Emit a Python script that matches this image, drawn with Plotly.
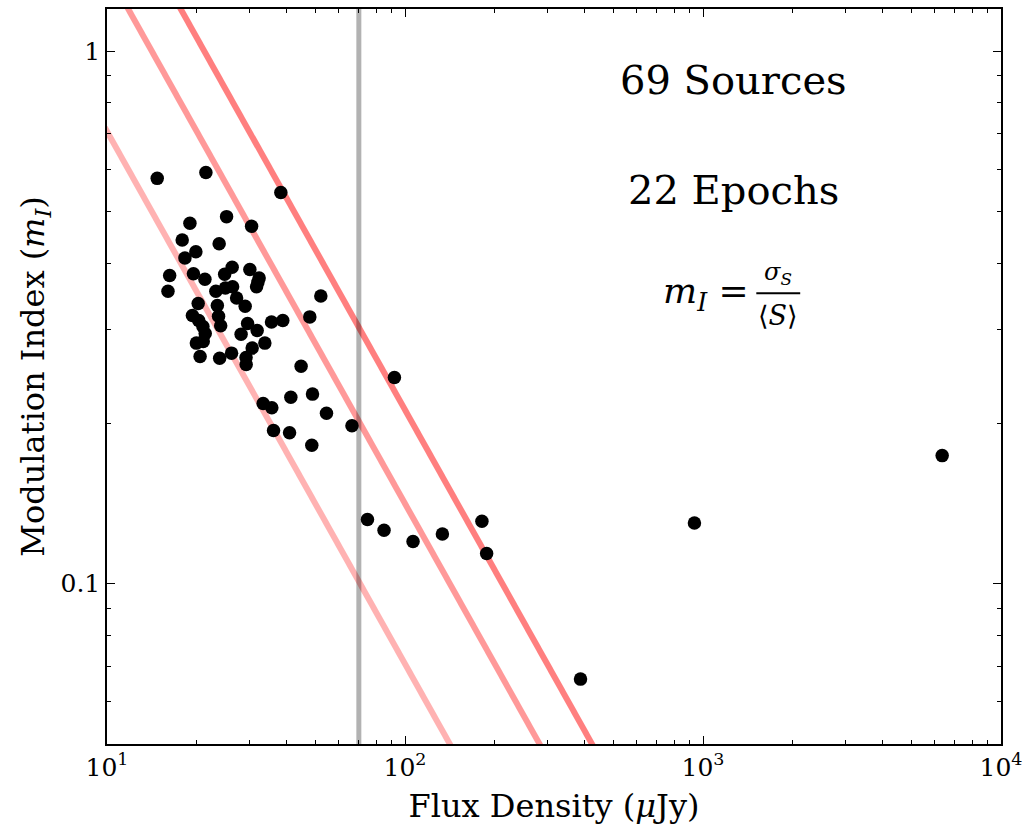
import plotly.graph_objects as go

# ---- data ----
flux = [14.74, 21.47, 38.31, 18.98, 25.19, 30.56, 17.88, 23.79, 19.87, 18.26,
        26.30, 30.16, 16.23, 19.50, 21.31, 24.82, 32.40, 31.76, 16.02, 23.19,
        26.39, 24.96, 52.18, 27.22, 20.23, 23.46, 29.08, 19.35, 20.31, 23.68,
        24.07, 47.92, 35.65, 38.90, 29.63, 31.91, 21.36, 28.18, 19.95, 21.03,
        30.70, 33.86, 20.53, 23.88, 26.18, 29.28, 29.31, 44.80, 33.42, 35.73,
        41.39, 48.93, 54.52, 92.15, 36.21, 40.98, 48.67, 66.38, 74.82, 85.04,
        106.4, 133.5, 181.2, 187.9, 935.9, 6347.0, 388.1, 20.98, 32.08]
mod_index = [0.577, 0.592, 0.543, 0.475, 0.489, 0.469, 0.442, 0.435, 0.420, 0.409,
             0.393, 0.389, 0.379, 0.382, 0.373, 0.381, 0.375, 0.361, 0.354, 0.354,
             0.361, 0.359, 0.347, 0.344, 0.336, 0.333, 0.332, 0.319, 0.312, 0.318,
             0.305, 0.317, 0.310, 0.312, 0.308, 0.299, 0.295, 0.294, 0.283, 0.285,
             0.277, 0.283, 0.267, 0.265, 0.271, 0.266, 0.258, 0.256, 0.218, 0.214,
             0.224, 0.227, 0.209, 0.244, 0.194, 0.192, 0.182, 0.198, 0.132, 0.126,
             0.120, 0.124, 0.131, 0.114, 0.130, 0.174, 0.0662, 0.304, 0.368]

# constant-sigma lines m = k / S  (k in uJy)
line_k = [7.07, 14.14, 21.21]
line_colors = ["rgba(255,0,0,0.3)", "rgba(255,0,0,0.4)", "rgba(255,0,0,0.5)"]
line_S = [1.0, 10000.0]
flux_cut = 70.0

x_tickvals = [10, 100, 1000, 10000]
x_ticktext = ["10<sup>1</sup>", "10<sup>2</sup>", "10<sup>3</sup>", "10<sup>4</sup>"]
y_tickvals = [0.1, 1]
y_ticktext = ["0.1", "1"]

FONT = "DejaVu Serif"

fig = go.Figure()

for k, c in zip(line_k, line_colors):
    fig.add_trace(go.Scatter(x=line_S, y=[k / s for s in line_S], mode="lines",
                             line=dict(color=c, width=6), hoverinfo="skip",
                             showlegend=False))

fig.add_trace(go.Scatter(x=[flux_cut, flux_cut], y=[0.01, 10], mode="lines",
                         line=dict(color="rgba(0,0,0,0.3)", width=5),
                         hoverinfo="skip", showlegend=False))

fig.add_trace(go.Scatter(x=flux, y=mod_index, mode="markers",
                         marker=dict(color="black", size=13.5, line=dict(width=0)),
                         showlegend=False))

x_minor = [m * 10 ** e for e in range(1, 4) for m in range(2, 10)]
y_minor = [0.05, 0.06, 0.07, 0.08, 0.09, 0.2, 0.3, 0.4, 0.5, 0.6, 0.7, 0.8, 0.9]

fig.update_xaxes(type="log", range=[1, 4], tickvals=x_tickvals, ticktext=x_ticktext,
                 ticks="inside", ticklen=8, tickwidth=1, tickcolor="black",
                 showline=True, linecolor="black", linewidth=1.5, mirror="allticks",
                 showgrid=False, zeroline=False,
                 minor=dict(tickvals=x_minor, ticks="inside", ticklen=4,
                            tickcolor="black", showgrid=False),
                 tickfont=dict(family=FONT, size=25, color="black"),
                 title=dict(text="Flux Density (<i>μ</i>Jy)", standoff=14,
                            font=dict(family=FONT, size=32, color="black")))
fig.update_yaxes(type="log", range=[-1.301, 0.0792], tickvals=y_tickvals,
                 ticktext=y_ticktext,
                 ticks="inside", ticklen=8, tickwidth=1, tickcolor="black",
                 showline=True, linecolor="black", linewidth=1.5, mirror="allticks",
                 showgrid=False, zeroline=False,
                 minor=dict(tickvals=y_minor, ticks="inside", ticklen=4,
                            tickcolor="black", showgrid=False),
                 tickfont=dict(family=FONT, size=25, color="black"),
                 title=dict(text="Modulation Index (<i>m</i><sub><i>I</i></sub>)",
                            standoff=6,
                            font=dict(family=FONT, size=32, color="black")))

tf = dict(family=FONT, color="black")
ann = [
    dict(x=0.7006, y=0.9037, text="69 Sources", font=dict(size=40, **tf)),
    dict(x=0.7006, y=0.7544, text="22 Epochs", font=dict(size=40, **tf)),
    dict(x=0.7200, y=0.6133, text="<i>m</i><sub><i>I</i></sub> =", font=dict(size=36, **tf),
         xanchor="right"),
    dict(x=0.7508, y=0.640, text="<i>σ</i><sub><i>S</i></sub>", font=dict(size=24, **tf)),
    dict(x=0.7508, y=0.583, text="⟨<i>S</i>⟩", font=dict(size=27, **tf)),
]
for a in ann:
    a.update(xref="paper", yref="paper", showarrow=False)
    a.setdefault("xanchor", "center")
    a["yanchor"] = "middle"
fig.update_layout(annotations=ann)
fig.add_shape(type="line", xref="paper", yref="paper", x0=0.7263, x1=0.7754,
              y0=0.6133, y1=0.6133, line=dict(color="black", width=2))

fig.update_layout(width=1029, height=829, autosize=False,
                  margin=dict(l=107, r=27, t=7, b=85),
                  paper_bgcolor="white", plot_bgcolor="white",
                  font=dict(family=FONT, color="black"))

fig.write_html("out.html")
